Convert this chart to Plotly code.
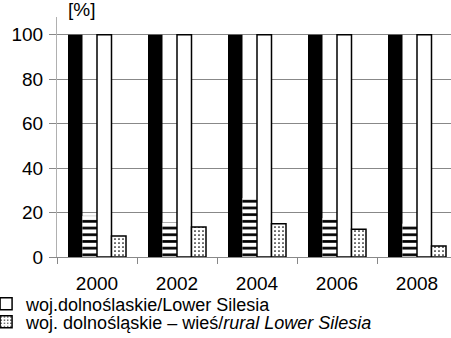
import plotly.graph_objects as go

years = ["2000", "2002", "2004", "2006", "2008"]
poland = [100, 100, 100, 100, 100]
poland_rural = [18.5, 15.5, 26.5, 17.5, 15]
lower_silesia = [100, 100, 100, 100, 100]
lower_silesia_rural = [9.5, 13.5, 15, 12.5, 5]
y_ticks = [0, 20, 40, 60, 80, 100]

FONT = "Liberation Sans, Arial, sans-serif"

fig = go.Figure()

fig.add_trace(go.Bar(
    x=years, y=poland, name="Polska/Poland", showlegend=False,
    marker=dict(color="black", line=dict(width=0)),
))
fig.add_trace(go.Bar(
    x=years, y=poland_rural, name="Polska – wieś/rural Poland", showlegend=False,
    marker=dict(color="white", line=dict(width=0),
                pattern=dict(shape="-", size=6.7, solidity=0.4,
                             fgcolor="black", bgcolor="white", fillmode="replace")),
))
fig.add_trace(go.Bar(
    x=years, y=lower_silesia, name="woj.dolnoślaskie/Lower Silesia",
    marker=dict(color="white", line=dict(width=1.5, color="black")),
    legend="legend",
))
fig.add_trace(go.Bar(
    x=years, y=lower_silesia_rural,
    name="woj. dolnośląskie – wieś/<i>rural Lower Silesia</i>",
    marker=dict(color="white", line=dict(width=1.5, color="black"),
                pattern=dict(shape=".", size=4, solidity=0.15,
                             fgcolor="black", bgcolor="white", fillmode="replace")),
    legend="legend2",
))

legend_common = dict(
    font=dict(family=FONT, size=18, color="black"),
    bgcolor="rgba(0,0,0,0)", borderwidth=0,
    xref="paper", yref="container", xanchor="left", yanchor="middle",
    x=-0.18,
)

fig.update_layout(
    width=451, height=338,
    margin=dict(l=57, r=0, t=17, b=81, autoexpand=False),
    paper_bgcolor="white", plot_bgcolor="white",
    barmode="group", bargap=0.275, bargroupgap=0,
    font=dict(family=FONT, size=19, color="black"),
    legend=dict(legend_common, y=1 - 304 / 338),
    legend2=dict(legend_common, y=1 - 322 / 338),
    xaxis=dict(
        type="category", range=[-0.5, 4.425],
        tickson="boundaries", ticks="outside", ticklen=6, tickcolor="#888888",
        showline=True, linecolor="#888888", linewidth=1,
        showgrid=False, tickfont=dict(size=19), ticklabelstandoff=9,
    ),
    yaxis=dict(
        range=[0, 108], tickvals=y_ticks,
        ticks="outside", ticklen=7, tickcolor="#888888",
        showline=True, linecolor="#b0b0b0", linewidth=1,
        showgrid=True, gridcolor="#888888", gridwidth=1,
        zeroline=False, tickfont=dict(size=19), ticklabelstandoff=2,
    ),
    annotations=[dict(
        text="[%]", xref="paper", yref="paper", x=0.022, y=1.0,
        xanchor="left", yanchor="bottom", yshift=-5, showarrow=False,
        font=dict(family=FONT, size=19, color="black"),
    )],
)

fig.write_html("out.html")
